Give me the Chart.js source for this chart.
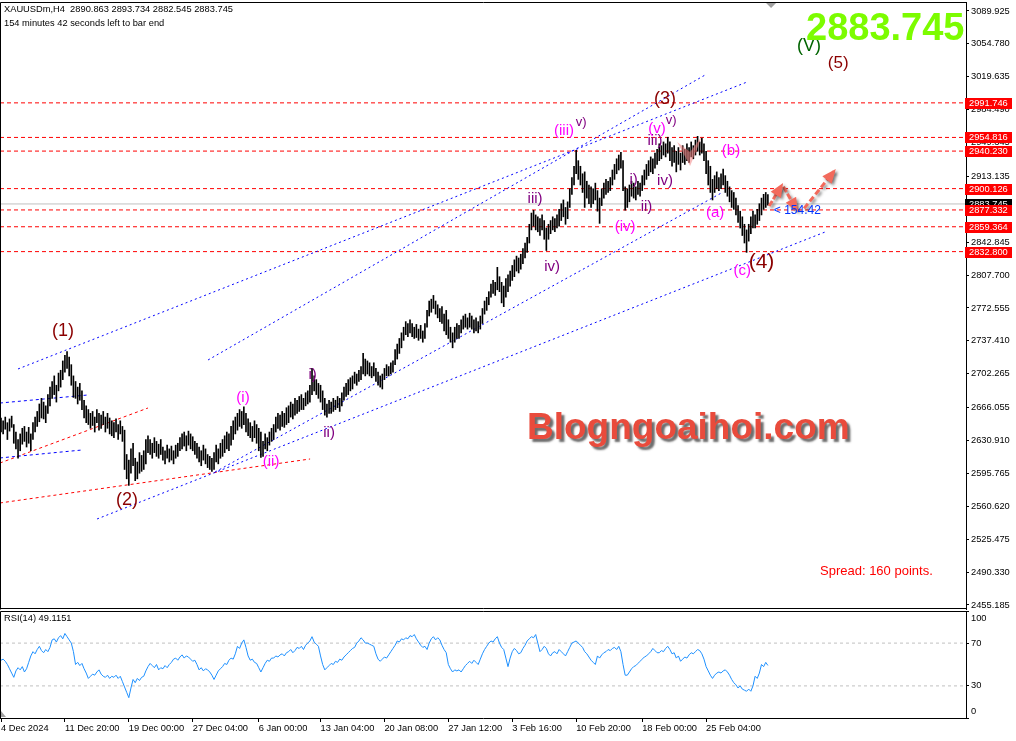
<!DOCTYPE html>
<html><head><meta charset="utf-8">
<script src="https://cdn.jsdelivr.net/npm/chart.js@4.4.1/dist/chart.umd.min.js"></script>
<style>
html,body{margin:0;padding:0;background:#fff;width:1016px;height:741px;overflow:hidden;}
canvas{position:absolute;left:0;}
.t{position:absolute;font-family:'Liberation Sans',Arial,sans-serif;white-space:nowrap;line-height:1;}
</style></head><body>
<canvas id="main" width="1016" height="611" style="top:0"></canvas>
<canvas id="rsi" width="1016" height="130" style="top:611px"></canvas>
<div class="t" style="left:4px;top:5px;font-size:9.3px;color:#000">XAUUSDm,H4&nbsp;&nbsp;2890.863 2893.734 2882.545 2883.745</div>
<div class="t" style="left:4px;top:19px;font-size:9.3px;color:#000">154 minutes 42 seconds left to bar end</div>
<div class="t" style="left:806px;top:8px;font-size:38px;font-weight:bold;color:#7cfc00">2883.745</div>
<div class="t" style="left:527px;top:408px;font-size:37px;font-weight:bold;color:#e94b3c;text-shadow:3px 3px 2px rgba(60,60,60,0.75)">Blogngoaihoi.com</div>
<div class="t" style="left:820px;top:564px;font-size:13px;color:#f00">Spread: 160 points.</div>
<div class="t" style="left:4px;top:614px;font-size:9.3px;color:#000">RSI(14) 49.1151</div>
<script>
// ---------------- DATA ----------------
const highs = [
2655,2652,2656,2650,2654,2657,2648,2640,2632,2638,
2644,2646,2640,2645,2638,2650,2656,2662,2670,2676,
2672,2668,2680,2688,2694,2700,2690,2703,2706,2716,
2722,2726,2720,2712,2700,2694,2688,2692,2684,2674,
2668,2664,2660,2662,2656,2664,2660,2658,2662,2656,
2660,2655,2652,2650,2654,2648,2652,2646,2642,2616,
2610,2622,2628,2612,2608,2618,2615,2620,2632,2636,
2632,2628,2634,2630,2627,2632,2624,2620,2626,2622,
2625,2620,2626,2628,2634,2638,2640,2636,2641,2638,
2635,2630,2628,2624,2620,2626,2622,2616,2614,2612,
2618,2626,2622,2628,2632,2636,2640,2638,2646,2652,
2656,2660,2664,2662,2667,2660,2654,2650,2646,2652,
2648,2644,2640,2630,2638,2634,2640,2644,2648,2656,
2660,2658,2662,2660,2666,2668,2672,2670,2676,2674,
2678,2680,2676,2682,2684,2690,2708,2700,2696,2692,
2690,2684,2676,2670,2674,2672,2676,2674,2678,2676,
2682,2688,2692,2696,2698,2700,2704,2702,2706,2710,
2724,2718,2716,2714,2710,2714,2708,2704,2700,2702,
2708,2712,2710,2714,2716,2728,2734,2740,2746,2752,
2758,2756,2760,2756,2752,2755,2750,2754,2748,2756,
2770,2780,2782,2786,2780,2776,2772,2774,2766,2770,
2760,2752,2746,2752,2756,2754,2760,2764,2766,2762,
2767,2764,2760,2762,2758,2764,2772,2780,2784,2790,
2798,2802,2800,2816,2806,2800,2796,2804,2808,2812,
2818,2824,2828,2826,2830,2836,2842,2848,2862,2874,
2877,2872,2870,2868,2872,2866,2858,2862,2866,2870,
2868,2872,2878,2884,2888,2880,2886,2900,2912,2924,
2941,2930,2924,2916,2918,2908,2904,2902,2900,2906,
2898,2890,2900,2906,2910,2908,2912,2920,2926,2932,
2936,2939,2930,2902,2900,2904,2908,2906,2902,2908,
2906,2914,2920,2926,2930,2934,2932,2938,2942,2948,
2946,2950,2948,2955,2950,2944,2946,2940,2944,2938,
2946,2942,2948,2944,2950,2946,2952,2956,2950,2954,
2948,2940,2930,2924,2910,2914,2918,2912,2916,2921,
2914,2908,2902,2898,2896,2890,2882,2876,2870,2862,
2856,2862,2870,2876,2872,2878,2884,2890,2894,2896,
2893.734];
const lows = [
2640,2638,2643,2632,2641,2645,2628,2622,2612,2620,
2627,2630,2624,2628,2620,2632,2640,2646,2651,2655,
2654,2650,2660,2668,2676,2680,2672,2684,2688,2696,
2704,2708,2700,2690,2677,2676,2670,2674,2664,2655,
2650,2648,2644,2647,2640,2650,2642,2644,2648,2640,
2644,2638,2636,2634,2640,2632,2638,2630,2600,2590,
2583,2596,2604,2588,2590,2596,2598,2600,2606,2618,
2616,2612,2618,2614,2612,2616,2610,2606,2612,2608,
2610,2606,2612,2614,2620,2622,2625,2620,2626,2622,
2620,2616,2612,2608,2604,2610,2606,2602,2600,2598,
2600,2608,2606,2612,2614,2618,2622,2620,2626,2632,
2638,2642,2646,2644,2648,2640,2636,2634,2630,2634,
2628,2620,2613,2614,2622,2620,2626,2630,2632,2640,
2644,2642,2646,2645,2648,2650,2656,2654,2658,2660,
2662,2664,2664,2668,2670,2672,2680,2684,2680,2676,
2672,2664,2658,2656,2660,2660,2662,2664,2666,2662,
2668,2674,2678,2680,2684,2686,2692,2690,2694,2696,
2702,2700,2702,2700,2698,2700,2694,2690,2688,2686,
2696,2700,2700,2702,2704,2712,2718,2724,2730,2738,
2744,2742,2746,2742,2740,2741,2738,2740,2736,2740,
2752,2764,2768,2772,2766,2762,2758,2756,2748,2744,
2740,2736,2730,2736,2740,2740,2746,2750,2752,2750,
2752,2750,2746,2748,2746,2750,2756,2766,2770,2776,
2784,2788,2786,2792,2790,2778,2774,2784,2790,2796,
2802,2806,2812,2810,2814,2820,2826,2832,2842,2856,
2860,2856,2854,2850,2856,2846,2834,2846,2852,2856,
2854,2858,2860,2866,2870,2862,2868,2880,2894,2904,
2916,2910,2904,2896,2880,2890,2884,2880,2884,2888,
2876,2863,2882,2890,2894,2896,2898,2904,2910,2916,
2920,2922,2898,2877,2880,2886,2892,2890,2888,2894,
2892,2898,2904,2910,2914,2918,2916,2922,2926,2930,
2932,2936,2934,2938,2930,2924,2928,2918,2926,2920,
2928,2926,2930,2928,2934,2932,2936,2940,2936,2938,
2930,2916,2904,2896,2888,2896,2900,2898,2900,2904,
2896,2892,2886,2880,2878,2872,2864,2858,2850,2842,
2832,2844,2852,2858,2858,2862,2866,2872,2878,2880,
2882.545];
const rsiValues = [
54,55,53,50,46,42,38,44,47,45,
48,43,46,52,58,62,60,64,67,63,
61,64,62,66,73,74,71,75,77,74,
79,76,73,70,62,50,52,49,51,46,
42,37,39,41,40,43,45,41,39,38,
40,37,39,38,40,37,39,34,29,24,
19,28,36,33,37,35,38,39,44,48,
51,49,47,50,45,47,46,49,47,50,
52,55,56,54,57,59,56,58,57,55,
53,54,50,45,47,44,46,45,43,40,
36,40,44,46,48,51,50,54,56,55,
60,67,65,70,73,66,58,54,55,52,
51,47,43,47,51,54,53,56,56,58,
57,59,60,58,61,62,64,61,63,66,
65,67,64,68,70,72,76,71,69,67,
58,50,45,47,49,51,50,53,52,55,
54,57,59,61,63,65,66,70,72,75,
73,70,70,69,68,67,60,55,53,55,
57,56,59,62,65,68,72,71,74,73,
75,74,77,76,78,74,71,68,66,67,
64,70,74,76,73,75,73,68,64,61,
50,46,43,45,44,45,43,46,49,51,
53,51,54,52,50,55,60,64,67,70,
72,71,74,76,70,66,64,56,48,56,
62,65,63,60,61,65,68,72,74,76,
75,78,70,62,64,67,65,60,58,61,
62,60,64,62,60,58,62,66,70,71,
72,70,68,66,62,60,57,54,52,50,
58,56,59,61,62,64,63,65,66,64,
67,62,50,40,40,43,46,48,49,51,
53,55,57,58,60,62,65,63,61,61,
63,62,65,67,64,60,61,56,58,53,
55,57,56,59,61,60,62,64,63,60,
55,48,44,40,37,40,42,43,42,44,
45,43,40,36,33,31,28,30,27,26,
25,27,25,30,39,37,42,50,48,52,
49.1151];
const timeLabels = ['4 Dec 2024','11 Dec 20:00','19 Dec 00:00','27 Dec 04:00','6 Jan 00:00','13 Jan 04:00','20 Jan 08:00','27 Jan 12:00','3 Feb 16:00','10 Feb 20:00','18 Feb 00:00','25 Feb 04:00'];
const labelIdx = [0,30,60,90,121,150,180,210,240,270,301,331];
const priceTicks = [3089.925,3054.780,3019.635,2984.490,2949.345,2913.135,2842.845,2807.700,2772.555,2737.410,2702.265,2666.055,2630.910,2595.765,2560.620,2525.475,2490.330,2455.185];
const levels = [2991.746,2954.816,2940.230,2900.126,2877.332,2859.364,2832.800];
const lastClose = 2883.745;
const rsiTicks = [100,70,30,0];
const rsiBands = [70,30];

// ---------------- ANNOTATIONS (data coordinates: bar index, price) ----------------
const trendLines = [
  {a:[8.0,2707.4], b:[350.2,3014.0], c:'#0000ff', d:[2,3]},
  {a:[97.2,2717.0], b:[330.5,3021.5], c:'#0000ff', d:[2,3]},
  {a:[45.1,2547.1], b:[386.9,2853.8], c:'#0000ff', d:[2,3]},
  {a:[100.5,2597.3], b:[339.0,2896.5], c:'#0000ff', d:[2,3]},
  {a:[-0.5,2671.0], b:[40.8,2679.6], c:'#0000ff', d:[3,3]},
  {a:[-0.5,2612.3], b:[38.0,2620.8], c:'#0000ff', d:[3,3]},
  {a:[-0.5,2606.9], b:[69.0,2665.7], c:'#ff0000', d:[3,3]},
  {a:[-0.5,2564.2], b:[145.1,2611.2], c:'#ff0000', d:[3,3]}
];
const arrows = [
  {a:[360.6,2881.5], b:[366.4,2903.5], d:[6,2]},
  {a:[367.3,2902.0], b:[373.4,2878.0], d:[6,2]},
  {a:[377.0,2879.0], b:[391.0,2918.5], d:[6,3]}
];
const DR='#8b0000', MG='#ff00ff', PU='#800080', GR='#006400';
const waveLabels = [
  {t:'(1)',i:29.1,p:2748,c:DR,s:18},{t:'(2)',i:59.2,p:2567,c:DR,s:18},
  {t:'(3)',i:311.7,p:2996,c:DR,s:18},{t:'(4)',i:357.0,p:2821,c:DR,s:21},
  {t:'(5)',i:393,p:3034,c:DR,s:17},{t:'(V)',i:379.3,p:3052.5,c:GR,s:18},
  {t:'(i)',i:113.6,p:2676.4,c:MG,s:15},{t:'(ii)',i:126.8,p:2608,c:MG,s:15},
  {t:'i)',i:146.3,p:2701,c:PU,s:15},{t:'ii)',i:154,p:2639,c:PU,s:15},
  {t:'iii)',i:250.7,p:2889,c:PU,s:15},{t:'iv)',i:258.7,p:2816.4,c:PU,s:15},
  {t:'(iii)',i:264.3,p:2962,c:MG,s:15},{t:'v)',i:272.4,p:2971,c:PU,s:13},
  {t:'(iv)',i:293,p:2859,c:MG,s:15},{t:'i)',i:297.0,p:2910,c:PU,s:15},
  {t:'ii)',i:303.0,p:2880.5,c:PU,s:15},{t:'iii)',i:307.0,p:2951,c:PU,s:15},
  {t:'iv)',i:311.7,p:2908,c:PU,s:15},{t:'(v)',i:308.0,p:2964,c:MG,s:15},
  {t:'v)',i:314.6,p:2973,c:PU,s:13},{t:'(a)',i:335.2,p:2874.5,c:MG,s:15},
  {t:'(b)',i:342.7,p:2940,c:MG,s:15},{t:'(c)',i:348.0,p:2812,c:MG,s:15}
];
const distLabel = {t:'< 154.42', i:362.8, p:2876.5, c:'#0033ff', s:12};
const bowtie = [[[317.4,2949.9],[323.5,2939.3],[323.5,2924.3]],[[329.1,2956.3],[323.5,2939.3],[323.5,2924.3]]];

const X_MIN = -0.47, X_MAX = 453;
const PRICE_MIN = 2450.9, PRICE_MAX = 3099.54;
const FONT = "'Liberation Sans', Arial, sans-serif";

// ---------------- MAIN CHART ----------------
const datasets = [];
datasets.push({type:'bar', data: highs.map((h,i)=>({x:i, y:[lows[i], h]})), backgroundColor:'#000', borderWidth:0, barThickness:1, grouped:false, order:0});
levels.forEach(v => datasets.push({type:'line', data:[{x:X_MIN,y:v},{x:X_MAX,y:v}], borderColor:'#ff0000', borderWidth:1, borderDash:[4,3], pointRadius:0, order:3}));
datasets.push({type:'line', data:[{x:X_MIN,y:lastClose},{x:X_MAX,y:lastClose}], borderColor:'#c0c0c0', borderWidth:1, pointRadius:0, order:3});
trendLines.forEach(l => datasets.push({type:'line', data:[{x:l.a[0],y:l.a[1]},{x:l.b[0],y:l.b[1]}], borderColor:l.c, borderWidth:1, borderDash:l.d, pointRadius:0, order:2}));
arrows.forEach(l => datasets.push({type:'line', isArrow:true, data:[{x:l.a[0],y:l.a[1]},{x:l.b[0],y:l.b[1]}], borderColor:'#f26a5c', borderWidth:3, borderDash:l.d, pointRadius:0, order:-1}));

function px(chart, i, p){ return [chart.scales.x.getPixelForValue(i), chart.scales.y.getPixelForValue(p)]; }

const shadowPlugin = {
  id:'shadow',
  beforeDatasetDraw(chart, args){ const ds = chart.data.datasets[args.index]; if(ds.isArrow){ const c=chart.ctx; c.save(); c.shadowColor='rgba(0,0,0,0.45)'; c.shadowBlur=3; c.shadowOffsetX=2; c.shadowOffsetY=2; } },
  afterDatasetDraw(chart, args){ const ds = chart.data.datasets[args.index]; if(ds.isArrow){ chart.ctx.restore(); } }
};

const mainOverlay = {
  id:'mainOverlay',
  afterDraw(chart){
    const ctx = chart.ctx, a = chart.chartArea, ys = chart.scales.y;
    ctx.save();
    ctx.strokeStyle='#000'; ctx.lineWidth=1; ctx.setLineDash([]);
    ctx.beginPath();
    ctx.moveTo(0.5, a.bottom+0.5); ctx.lineTo(0.5, a.top+0.5); ctx.lineTo(a.right+0.5, a.top+0.5);
    ctx.moveTo(0.5, a.bottom-0.5); ctx.lineTo(a.right, a.bottom-0.5);
    ctx.stroke();
    ctx.fillStyle='#a0a0a0'; ctx.beginPath();
    const mx = chart.scales.x.getPixelForValue(highs.length+0.5);
    ctx.moveTo(mx-5, a.top+1); ctx.lineTo(mx+5, a.top+1); ctx.lineTo(mx, a.top+6); ctx.closePath(); ctx.fill();
    ctx.fillStyle='rgba(240,128,128,0.55)';
    bowtie.forEach(tri => { ctx.beginPath(); tri.forEach((pt,k)=>{ const [x,y]=px(chart,pt[0],pt[1]); if(k===0) ctx.moveTo(x,y); else ctx.lineTo(x,y); }); ctx.closePath(); ctx.fill(); });
    ctx.save();
    ctx.shadowColor='rgba(0,0,0,0.45)'; ctx.shadowBlur=3; ctx.shadowOffsetX=2; ctx.shadowOffsetY=2;
    ctx.fillStyle='#f26a5c';
    arrows.forEach(l => {
      const [x0,y0]=px(chart,l.a[0],l.a[1]); const [x1,y1]=px(chart,l.b[0],l.b[1]);
      const ang=Math.atan2(y1-y0,x1-x0), L=11, W=6;
      ctx.beginPath(); ctx.moveTo(x1+Math.cos(ang)*3, y1+Math.sin(ang)*3);
      ctx.lineTo(x1-L*Math.cos(ang)+W*Math.sin(ang), y1-L*Math.sin(ang)-W*Math.cos(ang));
      ctx.lineTo(x1-L*Math.cos(ang)-W*Math.sin(ang), y1-L*Math.sin(ang)+W*Math.cos(ang));
      ctx.closePath(); ctx.fill();
    });
    ctx.restore();
    ctx.textAlign='center'; ctx.textBaseline='middle';
    waveLabels.forEach(w => { const [x,y]=px(chart,w.i,w.p); ctx.font = w.s+'px '+FONT; ctx.fillStyle=w.c; ctx.fillText(w.t, x, y); });
    { const [x,y]=px(chart,distLabel.i,distLabel.p); ctx.textAlign='left'; ctx.font=distLabel.s+'px '+FONT; ctx.fillStyle=distLabel.c; ctx.fillText(distLabel.t,x,y); }
    ctx.textAlign='left'; ctx.textBaseline='middle'; ctx.font='9.3px '+FONT;
    const bx = a.right-1, bw = 47;
    let y = Math.round(ys.getPixelForValue(lastClose));
    ctx.fillStyle='#000'; ctx.fillRect(bx, y-5, bw, 11); ctx.fillStyle='#fff'; ctx.fillText(lastClose.toFixed(3), bx+4, y+0.5);
    levels.forEach(v => { const yy = Math.round(ys.getPixelForValue(v)); ctx.fillStyle='#ff0000'; ctx.fillRect(bx, yy-5, bw, 11); ctx.fillStyle='#fff'; ctx.fillText(v.toFixed(3), bx+4, yy+0.5); });
    ctx.restore();
  }
};

new Chart(document.getElementById('main'), {
  data:{datasets},
  options:{
    responsive:false, animation:false, events:[],
    layout:{padding:{top:2,bottom:2,left:0,right:0}},
    plugins:{legend:{display:false}, tooltip:{enabled:false}},
    scales:{
      x:{type:'linear', display:false, offset:false, grid:{offset:false}, min:X_MIN, max:X_MAX},
      y:{type:'linear', position:'right', min:PRICE_MIN, max:PRICE_MAX,
         afterBuildTicks:s=>{ s.ticks = priceTicks.map(v=>({value:v})); },
         afterFit:s=>{ s.width=50; s.paddingTop=0; s.paddingBottom=0; },
         ticks:{autoSkip:false, font:{family:FONT,size:9.3}, color:'#000', padding:2, callback:v=>Number(v).toFixed(3)},
         grid:{drawOnChartArea:false, drawTicks:true, tickLength:3, color:'#000'},
         border:{display:true, color:'#000'}}
    }
  },
  plugins:[shadowPlugin, mainOverlay]
});

// ---------------- RSI CHART ----------------
const rsiSets = [
  {type:'line', data: rsiValues.map((v,i)=>({x:i,y:v})), borderColor:'#1e90ff', borderWidth:1, pointRadius:0, tension:0, order:0}
];
rsiBands.forEach(v => rsiSets.push({type:'line', data:[{x:X_MIN,y:v},{x:X_MAX,y:v}], borderColor:'#c0c0c0', borderWidth:1, borderDash:[3,3], pointRadius:0, order:1}));

const rsiOverlay = {
  id:'rsiOverlay',
  afterDraw(chart){
    const ctx=chart.ctx, a=chart.chartArea, ys=chart.scales.y;
    ctx.save();
    ctx.strokeStyle='#000'; ctx.lineWidth=1;
    ctx.beginPath(); ctx.moveTo(0.5,a.bottom); ctx.lineTo(0.5,a.top+0.5); ctx.lineTo(a.right,a.top+0.5); ctx.stroke();
    ctx.fillStyle='#a0a0a0'; ctx.beginPath(); ctx.moveTo(1,a.bottom-7); ctx.lineTo(1,a.bottom-1); ctx.lineTo(6,a.bottom-1); ctx.closePath(); ctx.fill();
    ctx.font='9.3px '+FONT; ctx.fillStyle='#000'; ctx.textAlign='left'; ctx.textBaseline='middle';
    rsiTicks.forEach(v => { let y = ys.getPixelForValue(v); y = Math.min(Math.max(y, a.top+7), a.bottom-7); ctx.fillText(String(v), a.right+5, y); });
    ctx.restore();
  }
};

new Chart(document.getElementById('rsi'), {
  data:{datasets:rsiSets},
  options:{
    responsive:false, animation:false, events:[],
    layout:{padding:{top:0,bottom:0,left:0,right:0}},
    plugins:{legend:{display:false}, tooltip:{enabled:false}},
    scales:{
      x:{type:'linear', position:'bottom', offset:false, min:X_MIN, max:X_MAX,
         afterBuildTicks:s=>{ s.ticks = labelIdx.map(v=>({value:v})); },
         afterFit:s=>{ s.height=23; s.paddingLeft=0; s.paddingRight=0; },
         ticks:{autoSkip:false, maxRotation:0, minRotation:0, align:'start', padding:1, font:{family:FONT,size:9.3}, color:'#000',
                callback:(v)=>{ const k=labelIdx.indexOf(v); return k>=0?timeLabels[k]:''; }},
         grid:{drawOnChartArea:false, drawTicks:true, tickLength:4, color:'#000'},
         border:{display:true, color:'#000'}},
      y:{type:'linear', position:'right', min:0, max:100,
         afterBuildTicks:s=>{ s.ticks = rsiTicks.map(v=>({value:v})); },
         afterFit:s=>{ s.width=50; s.paddingTop=0; s.paddingBottom=0; },
         ticks:{display:false},
         grid:{drawOnChartArea:false, drawTicks:true, tickLength:3, color:'#000'},
         border:{display:true, color:'#000'}}
    }
  },
  plugins:[rsiOverlay]
});
</script>
</body></html>
